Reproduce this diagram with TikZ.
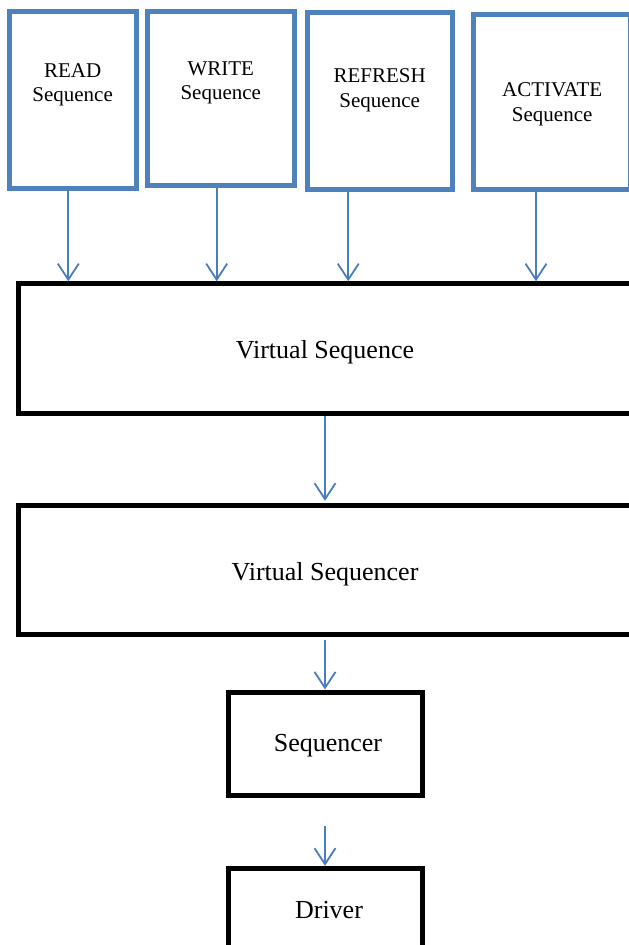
\documentclass[tikz,border=0pt]{standalone}
\usepackage{fontspec}
\setmainfont{Liberation Serif}
\usetikzlibrary{arrows.meta}
\definecolor{boxblue}{RGB}{79,129,189}
\definecolor{arrblue}{RGB}{74,126,187}
\tikzset{
  seqbox/.style={draw=boxblue, line width=5pt, inner sep=0pt, fill=white},
  blkbox/.style={draw=black, line width=5pt, inner sep=0pt, fill=white},
  smalltxt/.style={font=\fontsize{21}{24.7}\selectfont, inner sep=0pt, anchor=base},
  bigtxt/.style={font=\fontsize{26}{30}\selectfont, inner sep=0pt, anchor=base},
  arr/.style={draw=arrblue, line width=1.8pt, -{Straight Barb[length=16pt,width=21pt,line width=1.8pt]}}
}
\begin{document}
\begin{tikzpicture}[x=1pt,y=-1pt]
\useasboundingbox (0,0) rectangle (629,945);
\begin{scope}
\clip (0,0) rectangle (629,945);
% top sequence boxes
\node[seqbox, minimum width=126.5pt, minimum height=176.5pt] (read) at (72.75,99.75) {};
\node[seqbox, minimum width=147pt, minimum height=173.8pt] (write) at (221,98.6) {};
\node[seqbox, minimum width=145.5pt, minimum height=177.5pt] (refresh) at (379.75,100.75) {};
\node[seqbox, minimum width=157pt, minimum height=175pt] (activate) at (552,102) {};
% black boxes
\node[blkbox, minimum width=615.2pt, minimum height=129.5pt] (vs) at (326.4,348.5) {};
\node[blkbox, minimum width=615.2pt, minimum height=128.4pt] (vsr) at (326.4,570) {};
\node[blkbox, minimum width=194pt, minimum height=103pt] (seq) at (325,743.5) {};
\node[blkbox, minimum width=194pt, minimum height=103pt] (drv) at (325,919.8) {};
\end{scope}
% labels
\node[smalltxt] (readA) at (72.6,77) {READ};
\node[smalltxt] (readB) at (72.6,101.7) {Sequence};
\node[smalltxt] (writeA) at (220.8,75) {WRITE};
\node[smalltxt] (writeB) at (220.8,99.4) {Sequence};
\node[smalltxt] (refreshA) at (379.7,82.7) {REFRESH};
\node[smalltxt] (refreshB) at (379.7,107.3) {Sequence};
\node[smalltxt] (activateA) at (552.2,96.7) {ACTIVATE};
\node[smalltxt] (activateB) at (552.2,121.6) {Sequence};
\node[bigtxt] (vstxt) at (325,358.3) {Virtual Sequence};
\node[bigtxt] (vsrtxt) at (325,580) {Virtual Sequencer};
\node[bigtxt] (seqtxt) at (328,751.7) {Sequencer};
\node[bigtxt] (drvtxt) at (329,918.3) {Driver};
% arrow start points
\coordinate (ra) at ([xshift=-4.45pt]read.south);
\coordinate (wa) at ([xshift=-4.3pt]write.south);
\coordinate (fa) at ([xshift=-31.5pt]refresh.south);
\coordinate (aa) at ([xshift=-16pt]activate.south);
\coordinate (va) at ([xshift=-1.4pt]vs.south);
\coordinate (vb) at ([xshift=-1.4pt,yshift=2.5pt]vsr.north);
\coordinate (sa) at ([yshift=-3pt]vsr.south -| seq.south);
\coordinate (da) at ([yshift=-28pt]seq.south);
% arrows
\draw[arr] (ra) -- (vs.north -| ra);
\draw[arr] (wa) -- (vs.north -| wa);
\draw[arr] (fa) -- (vs.north -| fa);
\draw[arr] (aa) -- (vs.north -| aa);
\draw[arr] (va) -- (vb);
\draw[arr] (sa) -- (seq.north);
\draw[arr] (da) -- (drv.north);
\end{tikzpicture}
\end{document}
